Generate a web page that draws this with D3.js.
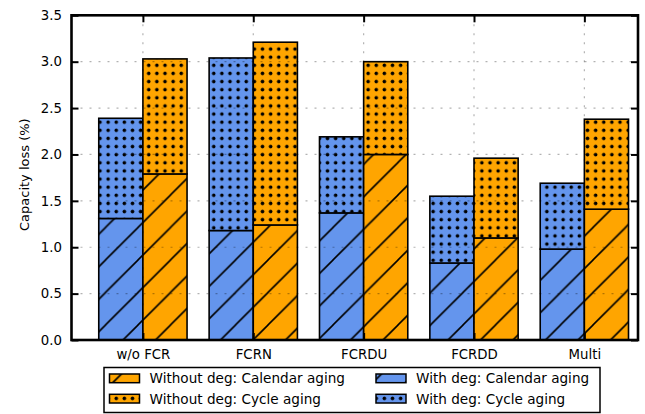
<!DOCTYPE html>
<html>
<head>
<meta charset="utf-8">
<script src="https://cdn.jsdelivr.net/npm/d3@7/dist/d3.min.js"></script>
<style>
  html, body { margin: 0; padding: 0; background: #fff; }
  svg { display: block; }
  text { font-family: "DejaVu Sans", sans-serif; fill: #000; }
</style>
</head>
<body>
<svg id="chart" width="645" height="414"></svg>
<script>
// Scenarios on the x axis
const categories = ["w/o FCR", "FCRN", "FCRDU", "FCRDD", "Multi"];

// Capacity loss (%) split into calendar and cycle aging
const withDegCalendar    = [1.31, 1.18, 1.37, 0.83, 0.98];
const withDegCycle       = [1.08, 1.86, 0.82, 0.72, 0.71];
const withoutDegCalendar = [1.79, 1.24, 2.00, 1.10, 1.41];
const withoutDegCycle    = [1.24, 1.97, 1.00, 0.86, 0.97];

const yTicks = [0, 0.5, 1.0, 1.5, 2.0, 2.5, 3.0, 3.5];

const legendItems = [
  { label: "Without deg: Calendar aging", color: "#FFA500", hatch: "diag" },
  { label: "Without deg: Cycle aging",    color: "#FFA500", hatch: "dots" },
  { label: "With deg: Calendar aging",    color: "#6495ED", hatch: "diag" },
  { label: "With deg: Cycle aging",       color: "#6495ED", hatch: "dots" }
];

const BLUE = "#6495ED", ORANGE = "#FFA500";
const svg = d3.select("#chart");

const plot = { left: 71.5, right: 638, top: 15.3, bottom: 340 };
const x = d3.scaleLinear().domain([-0.647, 4.486]).range([plot.left, plot.right]);
const y = d3.scaleLinear().domain([0, 3.5]).range([plot.bottom, plot.top]);
const barW = 0.4;

// Hatch patterns in page coordinates so they line up across bars
const defs = svg.append("defs");
const P = 32.5;
const diag = defs.append("pattern").attr("id", "hatch-diag")
  .attr("patternUnits", "userSpaceOnUse")
  .attr("x", 8).attr("y", 0).attr("width", P).attr("height", P);
[[0, P, P, 0], [-2, 2, 2, -2], [P - 2, P + 2, P + 2, P - 2]].forEach(([x1, y1, x2, y2]) => {
  diag.append("line").attr("x1", x1).attr("y1", y1).attr("x2", x2).attr("y2", y2)
    .attr("stroke", "#000").attr("stroke-width", 1.6);
});
const D = P / 4;
const dots = defs.append("pattern").attr("id", "hatch-dots")
  .attr("patternUnits", "userSpaceOnUse")
  .attr("x", 2.5 - D / 2).attr("y", 0.3 - D / 2).attr("width", D).attr("height", D);
dots.append("circle").attr("cx", D / 2).attr("cy", D / 2).attr("r", 1.8).attr("fill", "#000");

// Stacked segments: calendar at the bottom, cycle on top
const segments = [];
categories.forEach((c, i) => {
  segments.push({ i, x0: i - barW, base: 0, val: withDegCalendar[i], color: BLUE, hatch: "diag" });
  segments.push({ i, x0: i - barW, base: withDegCalendar[i], val: withDegCycle[i], color: BLUE, hatch: "dots" });
  segments.push({ i, x0: i, base: 0, val: withoutDegCalendar[i], color: ORANGE, hatch: "diag" });
  segments.push({ i, x0: i, base: withoutDegCalendar[i], val: withoutDegCycle[i], color: ORANGE, hatch: "dots" });
});

const bars = svg.append("g").attr("class", "bars");
const segG = bars.selectAll("g").data(segments).join("g");
segG.append("rect")
  .attr("x", d => x(d.x0)).attr("width", d => x(d.x0 + barW) - x(d.x0))
  .attr("y", d => y(d.base + d.val)).attr("height", d => y(d.base) - y(d.base + d.val))
  .attr("fill", d => d.color);
segG.append("rect")
  .attr("x", d => x(d.x0)).attr("width", d => x(d.x0 + barW) - x(d.x0))
  .attr("y", d => y(d.base + d.val)).attr("height", d => y(d.base) - y(d.base + d.val))
  .attr("fill", d => `url(#hatch-${d.hatch})`)
  .attr("stroke", "#000").attr("stroke-width", 1.6);

// Dotted grid drawn over the bars
const grid = svg.append("g").attr("class", "grid")
  .attr("stroke", "#000").attr("stroke-opacity", 0.3).attr("stroke-width", 1.2)
  .attr("stroke-dasharray", "2,7");
grid.selectAll("line.h").data(yTicks.slice(1, -1)).join("line").attr("class", "h")
  .attr("x1", plot.left).attr("x2", plot.right)
  .attr("y1", d => y(d)).attr("y2", d => y(d));
grid.selectAll("line.v").data(d3.range(categories.length)).join("line").attr("class", "v")
  .attr("y1", plot.top).attr("y2", plot.bottom)
  .attr("x1", d => x(d)).attr("x2", d => x(d));

// Axes: ticks pointing inward on all four sides
const tickLen = 7;
const yLeft = d3.axisLeft(y).tickValues(yTicks).tickFormat(d3.format(".1f")).tickSizeInner(-tickLen).tickSizeOuter(0).tickPadding(9.5);
const yRight = d3.axisRight(y).tickValues(yTicks).tickFormat("").tickSizeInner(-tickLen).tickSizeOuter(0);
const xBottom = d3.axisBottom(x).tickValues(d3.range(categories.length)).tickFormat(i => categories[i]).tickSizeInner(-tickLen).tickSizeOuter(0).tickPadding(10);
const xTop = d3.axisTop(x).tickValues(d3.range(categories.length)).tickFormat("").tickSizeInner(-tickLen).tickSizeOuter(0);

function styleAxis(g) {
  g.select(".domain").remove();
  g.selectAll(".tick line").attr("stroke", "#000").attr("stroke-width", 2);
  g.selectAll(".tick text").attr("font-size", 13.3).attr("font-family", "DejaVu Sans, sans-serif");
}
svg.append("g").attr("transform", `translate(${plot.left},0)`).call(yLeft).call(styleAxis);
svg.append("g").attr("transform", `translate(${plot.right},0)`).call(yRight).call(styleAxis);
svg.append("g").attr("transform", `translate(0,${plot.bottom})`).call(xBottom).call(styleAxis);
svg.append("g").attr("transform", `translate(0,${plot.top})`).call(xTop).call(styleAxis);

// Frame
svg.append("rect")
  .attr("x", plot.left).attr("y", plot.top)
  .attr("width", plot.right - plot.left).attr("height", plot.bottom - plot.top)
  .attr("fill", "none").attr("stroke", "#000").attr("stroke-width", 2.6);

// Y axis title
svg.append("text")
  .attr("transform", `translate(29,${(plot.top + plot.bottom) / 2 - 3}) rotate(-90)`)
  .attr("text-anchor", "middle").attr("font-size", 13)
  .text("Capacity loss (%)");

// Legend
const lg = svg.append("g").attr("class", "legend");
lg.append("rect").attr("x", 104).attr("y", 367.5).attr("width", 496).attr("height", 45)
  .attr("fill", "#fff").attr("stroke", "#000").attr("stroke-width", 1.5);
const colX = [109.5, 376], rowY = [374, 394.3];
legendItems.forEach((it, k) => {
  const cx = colX[Math.floor(k / 2)], cy = rowY[k % 2];
  lg.append("rect").attr("x", cx).attr("y", cy).attr("width", 30).attr("height", 8.7)
    .attr("fill", it.color);
  lg.append("rect").attr("x", cx).attr("y", cy).attr("width", 30).attr("height", 8.7)
    .attr("fill", `url(#hatch-${it.hatch})`).attr("stroke", "#000").attr("stroke-width", 1.5);
  lg.append("text").attr("x", cx + 40).attr("y", cy + 9.2)
    .attr("font-size", 13.6).text(it.label);
});
</script>
</body>
</html>
